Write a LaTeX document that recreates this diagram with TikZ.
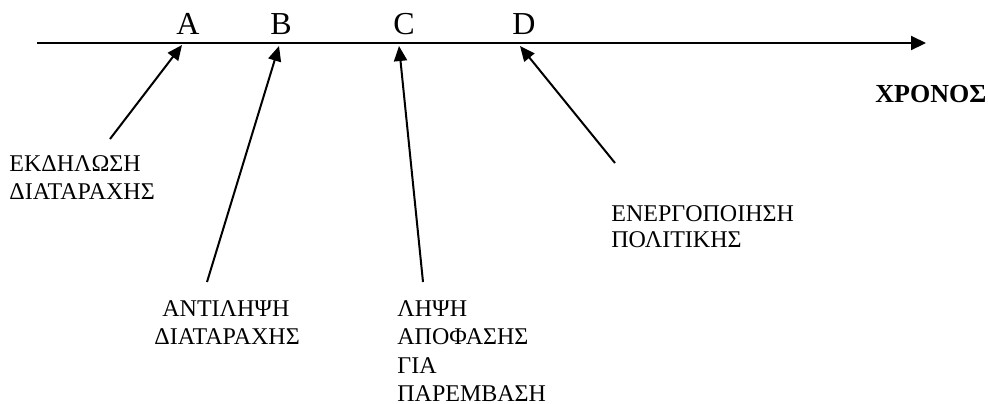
\documentclass[tikz,border=0pt]{standalone}
\usepackage{fontspec}
\setmainfont{Liberation Serif}
\usetikzlibrary{arrows.meta,positioning}

\tikzset{
  timeline/.style={line width=1pt, -{Triangle[length=7.5pt,width=7pt]}},
  pointer/.style={line width=1pt, -{Triangle[length=7.5pt,width=6.5pt]}},
  mark label/.style={anchor=base, inner sep=0pt, font=\fontsize{16}{19}\selectfont},
  event/.style={anchor=north west, inner sep=0pt, align=left,
    font=\fontsize{12}{14.25}\selectfont},
}

\begin{document}
\begin{tikzpicture}[x=0.5pt,y=-0.5pt]
    \useasboundingbox (0,0) rectangle (988,403);
    \coordinate (start) at (37,43);
    \coordinate (end) at (926,43);
    \draw [timeline] (start) -- (end);

    \node [mark label] (A) at (188,34) {A};
    \node [mark label] (B) at (281,34) {B};
    \node [mark label] (C) at (404,34) {C};
    \node [mark label] (D) at (524,34) {D};

    \coordinate (a) at (182,45);
    \coordinate (b) at (279,46);
    \coordinate (c) at (399,46);
    \coordinate (d) at (520,46);
    \coordinate (a0) at (110,139);
    \coordinate (b0) at (207,282);
    \coordinate (c0) at (423,282);
    \coordinate (d0) at (615,163);

    \draw [pointer] (a0) -- (a);
    \draw [pointer] (b0) -- (b);
    \draw [pointer] (c0) -- (c);
    \draw [pointer] (d0) -- (d);

    \node [event] (onset) at (9,155) {ΕΚΔΗΛΩΣΗ\\ΔΙΑΤΑΡΑΧΗΣ};
    \node [event] (percept) at (154,300) {\hspace*{4pt}ΑΝΤΙΛΗΨΗ\\ΔΙΑΤΑΡΑΧΗΣ};
    \node [event] (decision) at (397,300) {ΛΗΨΗ\\ΑΠΟΦΑΣΗΣ\\ΓΙΑ\\ΠΑΡΕΜΒΑΣΗ};
    \node [event, font=\fontsize{12}{13}\selectfont] (policy) at (611,205)
      {ΕΝΕΡΓΟΠΟΙΗΣΗ\\ΠΟΛΙΤΙΚΗΣ};
    \node [anchor=north west, inner sep=0pt, font=\fontsize{13}{15}\selectfont\bfseries]
      (time) at (875,85) {ΧΡΟΝΟΣ};
\end{tikzpicture}
\end{document}
